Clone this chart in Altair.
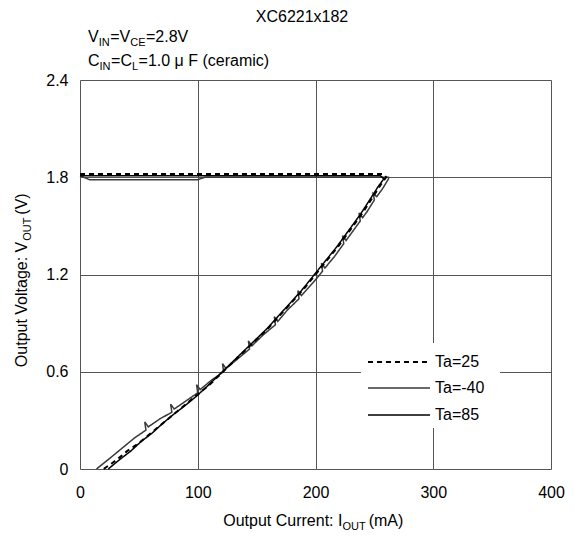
import altair as alt
import pandas as pd

# ---------------- data ----------------
series_names = ["Ta=25", "Ta=-40", "Ta=85"]

ta25_i = [0, 40, 80, 120, 160, 200, 240,
          257, 260, 255, 248, 240, 230, 220, 210, 200, 190, 180, 170, 160, 150,
          140, 130, 120, 110, 100, 90, 80, 70, 60, 50, 40, 30, 20]
ta25_v = [1.82, 1.82, 1.82, 1.82, 1.82, 1.82, 1.82,
          1.82, 1.80, 1.75, 1.67, 1.58, 1.48, 1.38, 1.29, 1.20, 1.11, 1.03, 0.95, 0.87, 0.80,
          0.73, 0.66, 0.59, 0.52, 0.46, 0.40, 0.34, 0.28, 0.22, 0.16, 0.11, 0.05, 0.0]

ta85_i = [0, 40, 80, 120, 160, 200, 240, 255,
          258, 253, 246, 238, 228, 218, 208, 198, 188, 178, 168, 158, 148, 138, 128,
          118, 108, 99, 89, 80, 70, 61, 52, 43, 34, 24]
ta85_v = [1.81, 1.81, 1.81, 1.81, 1.81, 1.81, 1.81, 1.81,
          1.79, 1.74, 1.66, 1.57, 1.47, 1.37, 1.28, 1.19, 1.10, 1.02, 0.94, 0.86, 0.79, 0.72, 0.65,
          0.58, 0.51, 0.45, 0.39, 0.34, 0.28, 0.22, 0.17, 0.11, 0.06, 0.0]

ta40_i = [0, 8, 50, 100, 106, 200, 262,
          262, 257, 252, 249, 250, 244, 240, 237, 238, 232, 226, 223, 224, 216,
          208, 205, 206, 198, 188, 185, 186, 176, 168, 165, 166, 156, 146, 143, 144,
          134, 124, 121, 122, 112, 102, 99, 100, 90, 80, 77, 78, 68, 58, 55, 56,
          46, 36, 26, 14]
ta40_v = [1.81, 1.785, 1.785, 1.785, 1.80, 1.80, 1.80,
          1.79, 1.73, 1.68, 1.70, 1.66, 1.59, 1.55, 1.58, 1.53, 1.47, 1.41, 1.44, 1.39, 1.31,
          1.24, 1.27, 1.22, 1.15, 1.07, 1.10, 1.05, 0.98, 0.91, 0.94, 0.89, 0.83, 0.76, 0.79, 0.74,
          0.68, 0.62, 0.65, 0.60, 0.55, 0.49, 0.52, 0.47, 0.42, 0.37, 0.40, 0.35, 0.31, 0.26, 0.29, 0.24,
          0.19, 0.13, 0.07, 0.0]

x_ticks = [0, 100, 200, 300, 400]
y_ticks = [0, 0.6, 1.2, 1.8, 2.4]

rows = []
for name, ii, vv in [("Ta=25", ta25_i, ta25_v), ("Ta=-40", ta40_i, ta40_v), ("Ta=85", ta85_i, ta85_v)]:
    for k, (a, b) in enumerate(zip(ii, vv)):
        rows.append({"series": name, "I": a, "V": b, "idx": k})
df = pd.DataFrame(rows)

FONT = "Liberation Sans"
FS = 16
W, H = 471, 389

styles = {
    "Ta=25": dict(color="black", strokeWidth=2, strokeDash=[5, 4]),
    "Ta=-40": dict(color="#3a3a3a", strokeWidth=1.5, strokeDash=[1, 0]),
    "Ta=85": dict(color="black", strokeWidth=1.5, strokeDash=[1, 0]),
}

x_axis = alt.Axis(values=x_ticks, title=None, grid=True, gridColor="#555555", gridWidth=1,
                  domain=False, ticks=False, labelFontSize=FS, labelFont=FONT, labelColor="black",
                  labelPadding=15, labelFlush=False)
y_axis = alt.Axis(values=y_ticks, title=None, grid=True, gridColor="#555555", gridWidth=1,
                  domain=False, ticks=False, labelFontSize=FS, labelFont=FONT, labelColor="black",
                  labelPadding=12, labelFlush=False,
                  labelExpr="datum.value == 0 ? '0' : format(datum.value, '.1f')")

def line_layer(name):
    st = styles[name]
    return alt.Chart(df).transform_filter(alt.datum.series == name).mark_line(
        color=st["color"], strokeWidth=st["strokeWidth"], strokeDash=st["strokeDash"]
    ).encode(
        x=alt.X("I:Q", scale=alt.Scale(domain=[0, 400], nice=False), axis=x_axis),
        y=alt.Y("V:Q", scale=alt.Scale(domain=[0, 2.4], nice=False), axis=y_axis),
        order="idx:Q",
    )

layers = [line_layer("Ta=-40"), line_layer("Ta=85"), line_layer("Ta=25")]

# ---------------- text helpers ----------------
AW = {' ': 278, '(': 333, ')': 333, '.': 278, ':': 278, '=': 584, '-': 333,
      '0': 556, '1': 556, '2': 556, '3': 556, '4': 556, '5': 556, '6': 556, '7': 556, '8': 556, '9': 556,
      'A': 667, 'C': 722, 'E': 667, 'F': 611, 'I': 278, 'L': 556, 'N': 722, 'O': 778, 'T': 611,
      'U': 722, 'V': 667, 'X': 667,
      'a': 556, 'c': 500, 'e': 556, 'g': 556, 'i': 222, 'l': 222, 'm': 833, 'n': 556, 'o': 556,
      'p': 556, 'r': 333, 't': 278, 'u': 556, 'x': 500, 'μ': 576}

def tw(s, size):
    return sum(AW.get(c, 556) for c in s) * size / 1000.0

def comp_text(parts, x, y, size=FS, sub_size=11, sub_dy=4, angle=0, center=False, gap=1.5):
    widths = [tw(t, sub_size if s else size) + (gap if s else 0) for t, s in parts]
    total = sum(widths)
    out = []
    if angle == 0:
        cur = x - total / 2 if center else x
    else:
        cur = y + total / 2 if center else y
    for (t, s), w in zip(parts, widths):
        fs = sub_size if s else size
        if angle == 0:
            px, py = cur, y + (sub_dy if s else 0)
            cur += w
        else:
            px, py = x + (sub_dy if s else 0), cur
            cur -= w
        out.append(
            alt.Chart(pd.DataFrame({"t": [t]})).mark_text(
                align="left", baseline="alphabetic", fontSize=fs, font=FONT, color="black", angle=angle
            ).encode(text="t:N", x=alt.value(px), y=alt.value(py))
        )
    return out

texts = []
texts += comp_text([("XC6221x182", 0)], 222, -58, center=True)
texts += comp_text([("V", 0), ("IN", 1), ("=V", 0), ("CE", 1), ("=2.8V", 0)], 8, -38, gap=0.5)
texts += comp_text([("C", 0), ("IN", 1), ("=C", 0), ("L", 1), ("=1.0 μ F (ceramic)", 0)], 8, -14, gap=0.5)
texts += comp_text([("Output Current: I", 0), ("OUT", 1), (" (mA)", 0)], W / 2, 446, center=True, gap=3)
texts += comp_text([("Output Voltage: V", 0), ("OUT", 1), (" (V)", 0)], -53, 198, angle=270, center=True, gap=3)

# ---------------- legend ----------------
legend_bg = alt.Chart(pd.DataFrame({"a": [0]})).mark_rect(color="white").encode(
    x=alt.value(281), x2=alt.value(420), y=alt.value(263), y2=alt.value(348))
legend_layers = [legend_bg]
legend_y = [282, 308, 335]
for name, yy in zip(series_names, legend_y):
    st = styles[name]
    legend_layers.append(
        alt.Chart(pd.DataFrame({"a": [0]})).mark_rule(
            color=st["color"], strokeWidth=st["strokeWidth"], strokeDash=st["strokeDash"]
        ).encode(x=alt.value(288), x2=alt.value(350), y=alt.value(yy))
    )
    legend_layers.append(
        alt.Chart(pd.DataFrame({"t": [name]})).mark_text(
            align="left", baseline="middle", fontSize=FS, font=FONT, color="black"
        ).encode(text="t:N", x=alt.value(355), y=alt.value(yy))
    )

chart = alt.layer(*layers, *legend_layers, *texts).properties(
    width=W, height=H,
    autosize=alt.AutoSizeParams(type="none"),
    padding={"left": 72, "top": 72, "right": 15, "bottom": 68},
).configure_view(stroke="black", strokeWidth=1.5).configure(background="white")

chart.save("out.html", embed_options={"renderer": "svg", "actions": False})
